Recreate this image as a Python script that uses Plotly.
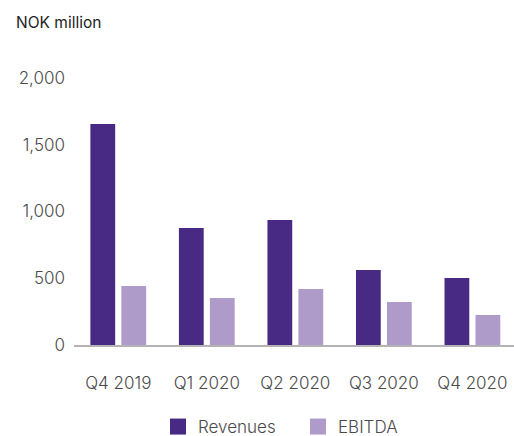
import plotly.graph_objects as go

categories = ["Q4 2019", "Q1 2020", "Q2 2020", "Q3 2020", "Q4 2020"]
revenues = [1655, 876, 936, 562, 502]
ebitda = [442, 352, 419, 322, 225]
y_ticks = [0, 500, 1000, 1500, 2000]
y_tick_labels = ["0", "500", "1,000", "1,500", "2,000"]

REV_COLOR = "#482a85"
EBITDA_COLOR = "#af9bc9"
FONT = "Inter, Lato, sans-serif"
TEXT_COLOR = "#4a4a4a"

fig = go.Figure()
fig.add_trace(go.Bar(x=categories, y=revenues, name="Revenues",
                     marker=dict(color=REV_COLOR, line=dict(width=0)), showlegend=False))
fig.add_trace(go.Bar(x=categories, y=ebitda, name="EBITDA",
                     marker=dict(color=EBITDA_COLOR, line=dict(width=0)), showlegend=False))
# legend entries with larger square swatches
fig.add_trace(go.Scatter(x=[None], y=[None], mode="markers", name="Revenues",
                         marker=dict(symbol="square", size=16, color=REV_COLOR)))
fig.add_trace(go.Scatter(x=[None], y=[None], mode="markers", name="EBITDA",
                         marker=dict(symbol="square", size=16, color=EBITDA_COLOR)))

fig.update_layout(
    width=514, height=436,
    margin=dict(l=74, r=0, t=78, b=91, autoexpand=False),
    paper_bgcolor="white", plot_bgcolor="white",
    barmode="group", bargap=0.3, bargroupgap=0.2,
    font=dict(family=FONT, size=17, color=TEXT_COLOR, weight=300),
    showlegend=True,
    legend=dict(orientation="h", x=158 / 514, xref="container", xanchor="left",
                y=(436 - 427) / 436, yref="container", yanchor="middle", itemsizing="trace",
                font=dict(family=FONT, size=17, color=TEXT_COLOR, weight=300),
                itemwidth=30, tracegroupgap=0, entrywidth=95, entrywidthmode="pixels"),
    annotations=[dict(text="NOK million", xref="paper", yref="paper",
                      x=(14 - 74) / 440, y=1 + (78 - 23) / 267, xanchor="left", yanchor="middle",
                      showarrow=False,
                      font=dict(family=FONT, size=15.5, color="#222222", weight=400))],
)
fig.update_xaxes(type="category", range=[-0.5, 4.47], showline=True, linecolor="#b3b3b3",
                 linewidth=1.5, ticks="", showgrid=False, zeroline=False,
                 ticklabelstandoff=22, fixedrange=True)
fig.update_yaxes(range=[0, 2000], tickvals=y_ticks, ticktext=y_tick_labels, showgrid=False,
                 zeroline=False, showline=False, ticks="", ticklabelstandoff=8, fixedrange=True)

fig.write_html("out.html")
